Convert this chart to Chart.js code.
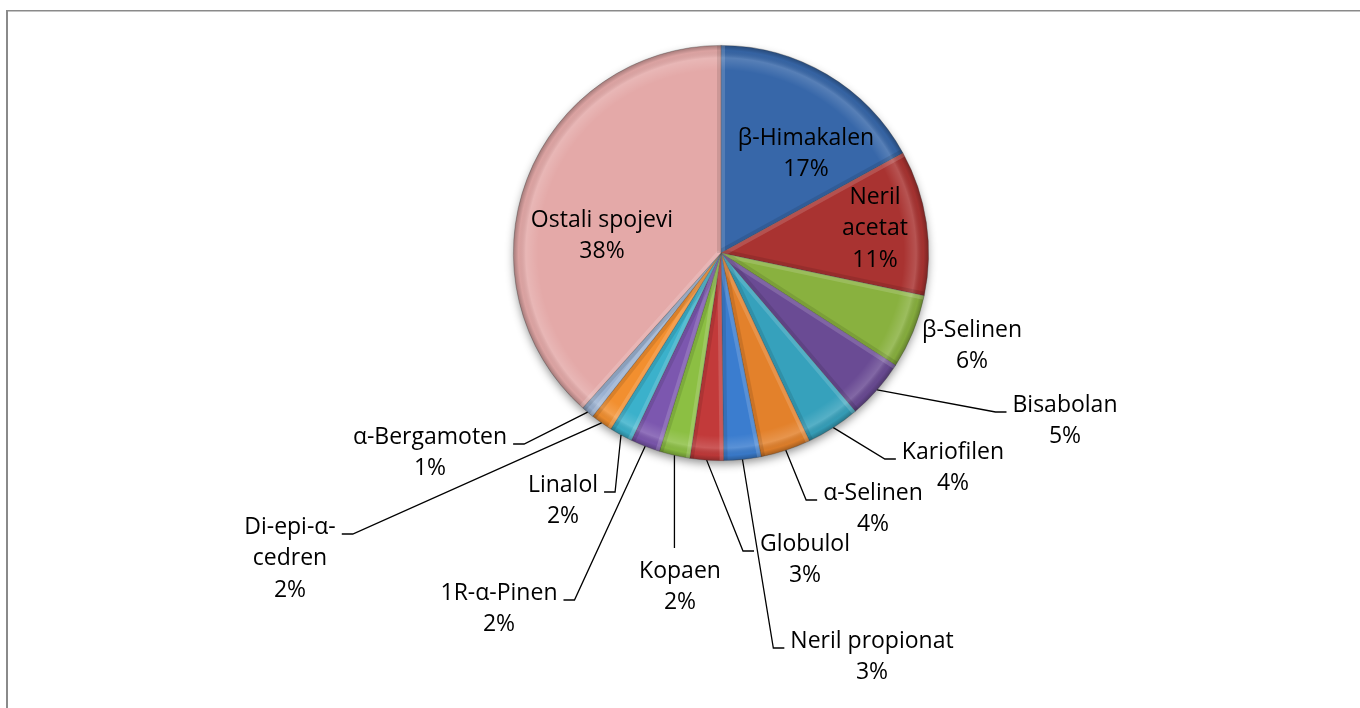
<!DOCTYPE html>
<html><head><meta charset="utf-8">
<script src="https://cdn.jsdelivr.net/npm/chart.js@4.4.0/dist/chart.umd.min.js"></script>
<style>html,body{margin:0;padding:0;background:#fff;} #wrap{width:1360px;height:708px;position:relative;}</style>
</head><body><div id="wrap"><canvas id="c" width="1360" height="708"></canvas></div>
<script>
// ---- data ----
const categories = ["β-Himakalen","Neril acetat","β-Selinen","Bisabolan","Kariofilen","α-Selinen","Neril propionat","Globulol","Kopaen","1R-α-Pinen","Linalol","Di-epi-α-cedren","α-Bergamoten","Ostali spojevi"];
const values = [17.0, 11.3, 5.8, 4.7, 4.2, 3.9, 2.9, 2.6, 2.4, 2.3, 1.8, 1.7, 1.0, 38.4];
const labelLines = [["β-Himakalen"],["Neril","acetat"],["β-Selinen"],["Bisabolan"],["Kariofilen"],["α-Selinen"],["Neril propionat"],["Globulol"],["Kopaen"],["1R-α-Pinen"],["Linalol"],["Di-epi-α-","cedren"],["α-Bergamoten"],["Ostali spojevi"]];

// ---- styles / layout ----
const sliceColors = ['#3767A9','#A93331','#89B13F','#6A4B94','#36A1BC','#E3812B','#3B7DCF','#C23A3A','#8CBF43','#7C57AF','#3BB1CB','#F28F2F','#9AB1D1','#E4A9A8'];
// label first-line centre, offset from pie centre; leader mode
const labelPlace = [[85,-115,"none"],[154,-56,"none"],[251,77,"none"],[344,152,"right"],[232,199,"right"],[152,240,"right"],[151,388,"right"],[84,291,"right"],[-41,318,"top"],[-222,340,"left"],[-158,232,"left"],[-431,274,"left"],[-291,184,"left"],[-119,-33,"none"]];
const FONT_FAMILY = '"Open Sans","Noto Sans","DejaVu Sans",sans-serif';
const LINE_H = 31.5;

const total = values.reduce((a,b)=>a+b,0);

const framePlugin = {
  id:'frame',
  beforeDraw(chart){
    const ctx = chart.ctx;
    ctx.save();
    ctx.fillStyle = '#fff';
    ctx.fillRect(0,0,chart.width,chart.height);
    ctx.fillStyle = '#8a8a8a';
    ctx.fillRect(6,10,2,chart.height-10);
    ctx.fillRect(6,10,chart.width-6,1.5);
    ctx.restore();
  }
};

const shadowPlugin = {
  id:'pieShadow',
  beforeDatasetsDraw(chart){
    const arc = chart.getDatasetMeta(0).data[0];
    if(!arc) return;
    const {x,y,outerRadius:r} = arc.getProps(['x','y','outerRadius'], true);
    const ctx = chart.ctx;
    ctx.save();
    ctx.shadowColor = 'rgba(0,0,0,0.45)';
    ctx.shadowBlur = 10;
    ctx.shadowOffsetY = 4;
    ctx.fillStyle = '#ddd';
    ctx.beginPath(); ctx.arc(x,y,r-1,0,Math.PI*2); ctx.fill();
    ctx.restore();
  }
};

const bevelPlugin = {
  id:'bevel',
  afterDatasetsDraw(chart){
    const ctx = chart.ctx;
    chart.getDatasetMeta(0).data.forEach((arc)=>{
      const {x,y,startAngle,endAngle,outerRadius:r} = arc.getProps(['x','y','startAngle','endAngle','outerRadius'], true);
      ctx.save();
      ctx.beginPath(); ctx.moveTo(x,y); ctx.arc(x,y,r,startAngle,endAngle); ctx.closePath(); ctx.clip();
      const g = ctx.createRadialGradient(x,y,0,x,y,r);
      g.addColorStop(0,'rgba(255,255,255,0)');
      g.addColorStop(0.88,'rgba(255,255,255,0)');
      g.addColorStop(0.94,'rgba(255,255,255,0.16)');
      g.addColorStop(0.975,'rgba(0,0,0,0.04)');
      g.addColorStop(1,'rgba(0,0,0,0.28)');
      ctx.fillStyle = g; ctx.fillRect(x-r,y-r,2*r,2*r);
      ctx.lineWidth = 8;
      ctx.strokeStyle = 'rgba(255,255,255,0.15)';
      ctx.beginPath(); ctx.moveTo(x,y); ctx.lineTo(x+r*Math.cos(startAngle), y+r*Math.sin(startAngle)); ctx.stroke();
      ctx.strokeStyle = 'rgba(0,0,0,0.10)';
      ctx.beginPath(); ctx.moveTo(x,y); ctx.lineTo(x+r*Math.cos(endAngle), y+r*Math.sin(endAngle)); ctx.stroke();
      ctx.restore();
    });
  }
};

const labelPlugin = {
  id:'labels',
  afterDraw(chart){
    const ctx = chart.ctx;
    const meta = chart.getDatasetMeta(0);
    ctx.save();
    ctx.font = '20px ' + FONT_FAMILY;
    const ref = ctx.measureText('Bisabolan').width;
    const fs = 20 * 105 / ref;
    ctx.font = fs.toFixed(2) + 'px ' + FONT_FAMILY;
    ctx.fillStyle = '#000';
    ctx.strokeStyle = '#000';
    ctx.lineWidth = 1.3;
    ctx.textAlign = 'center';
    ctx.textBaseline = 'middle';
    meta.data.forEach((arc,i)=>{
      const {x,y,startAngle,endAngle,outerRadius:r} = arc.getProps(['x','y','startAngle','endAngle','outerRadius'], true);
      const lines = labelLines[i].concat([Math.round(values[i]/total*100)+'%']);
      const [dx,dy,mode] = labelPlace[i];
      const tx = x+dx, ty = y+dy;
      const w = Math.max(...lines.map(l=>ctx.measureText(l).width));
      lines.forEach((l,k)=>ctx.fillText(l, tx, ty + k*LINE_H));
      if(mode !== 'none'){
        const mid = (startAngle+endAngle)/2;
        const px = x + r*Math.cos(mid), py = y + r*Math.sin(mid);
        ctx.beginPath();
        ctx.moveTo(px,py);
        const ly = ty + 7;
        if(mode === 'right'){
          const e = tx - w/2 - 6;
          ctx.lineTo(e-11, ly); ctx.lineTo(e, ly);
        } else if(mode === 'left'){
          const e = tx + w/2 + 6;
          ctx.lineTo(e+11, ly); ctx.lineTo(e, ly);
        } else if(mode === 'top'){
          ctx.lineTo(px, ty - 23);
        }
        ctx.stroke();
      }
    });
    ctx.restore();
  }
};

new Chart(document.getElementById('c'), {
  type:'pie',
  data:{
    labels:categories,
    datasets:[{data:values, backgroundColor:sliceColors, borderColor:'rgba(70,70,70,0.45)', borderWidth:0.75, hoverOffset:0}]
  },
  options:{
    responsive:false,
    animation:false,
    events:[],
    layout:{padding:{left:300,right:218,top:45,bottom:247}},
    plugins:{legend:{display:false}, tooltip:{enabled:false}}
  },
  plugins:[framePlugin, shadowPlugin, bevelPlugin, labelPlugin]
});
</script>
</body></html>
